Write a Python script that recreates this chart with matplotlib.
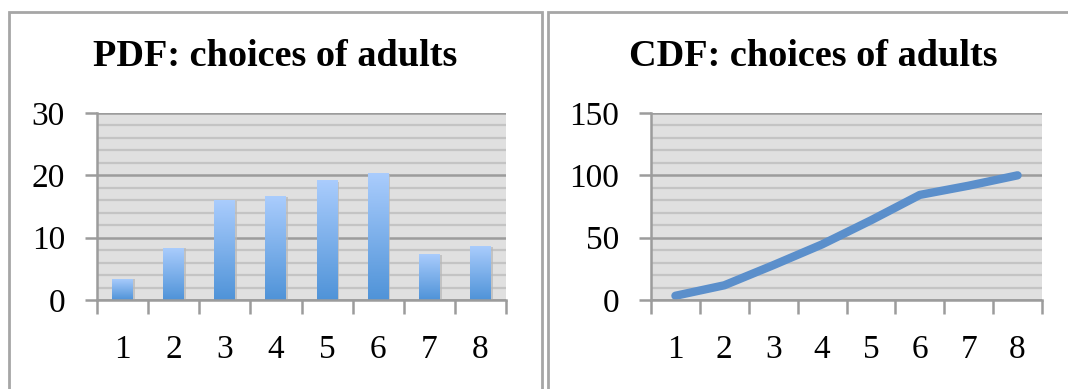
import numpy as np
import matplotlib
matplotlib.use("Agg")
import matplotlib.pyplot as plt
from matplotlib.patches import Rectangle
from matplotlib.ticker import MultipleLocator, FixedLocator

# Data
categories = ["1", "2", "3", "4", "5", "6", "7", "8"]
pdf_values = [3.4, 8.4, 16.1, 16.7, 19.3, 20.4, 7.4, 8.7]
cdf_values = [3.4, 11.8, 27.9, 44.6, 63.9, 84.3, 91.7, 100.0]
pdf_yticks = [0, 10, 20, 30]
cdf_yticks = [0, 50, 100, 150]

W, H = 1068, 389
fig = plt.figure(figsize=(W / 100, H / 100), dpi=100)
fig.patch.set_facecolor("white")

SERIF = ["Liberation Serif", "DejaVu Serif"]
GRID_MAJOR = "#9c9c9c"
GRID_MINOR = "#c4c4c4"
PLOT_BG = "#e0e0e0"
FRAME = "#a6a6a6"


def px_axes(left, right, top, bottom):
    return fig.add_axes([left / W, (H - bottom) / H, (right - left) / W, (bottom - top) / H])


# Panel frames
for x0, x1 in [(8.5, 541.5), (547.5, 1100)]:
    fig.patches.append(Rectangle((x0 / W, -0.2), (x1 - x0) / W, (H - 11.5) / H + 0.2,
                                 transform=fig.transFigure, fill=False,
                                 edgecolor=FRAME, linewidth=2.0))


def style_axes(ax, yticks, minor_step):
    n = len(categories)
    x = np.arange(n)
    ax.set_facecolor(PLOT_BG)
    ax.set_xlim(-0.5, n - 0.5)
    ax.set_ylim(yticks[0], yticks[-1])
    ax.set_yticks(yticks)
    ax.yaxis.set_minor_locator(MultipleLocator(minor_step))
    ax.set_xticks(x)
    ax.set_xticklabels(categories)
    ax.xaxis.set_minor_locator(FixedLocator(np.arange(n + 1) - 0.5))
    ax.grid(which="minor", axis="y", color=GRID_MINOR, linewidth=1.6, zorder=0)
    ax.grid(which="major", axis="y", color=GRID_MAJOR, linewidth=1.8, zorder=0)
    ax.set_axisbelow(True)
    for side in ("top", "right"):
        ax.spines[side].set_visible(False)
    for side in ("left", "bottom"):
        ax.spines[side].set_color(GRID_MAJOR)
        ax.spines[side].set_linewidth(1.8)
        ax.spines[side].set_zorder(4)
    ax.tick_params(axis="y", which="major", length=9, width=1.8, color=GRID_MAJOR,
                   pad=14, labelsize=24)
    ax.tick_params(axis="y", which="minor", length=0)
    ax.tick_params(axis="x", which="major", length=0, pad=25, labelsize=24)
    ax.tick_params(axis="x", which="minor", length=10, width=1.8, color=GRID_MAJOR)
    for lbl in ax.get_xticklabels() + ax.get_yticklabels():
        lbl.set_fontfamily(SERIF)
        lbl.set_color("black")
    return x


# PDF bar chart
ax1 = px_axes(97, 506, 113, 300)
x1 = style_axes(ax1, pdf_yticks, 2)
bars = ax1.bar(x1, pdf_values, width=0.41, facecolor="none", edgecolor="none", zorder=3)
grad = np.linspace(0, 1, 256).reshape(-1, 1)
cmap = matplotlib.colors.LinearSegmentedColormap.from_list("barfill", ["#4f93d8", "#abcdfd"])
for b in bars:
    bx, by = b.get_x(), b.get_y()
    bw, bh = b.get_width(), b.get_height()
    # soft shadow on the right side
    ax1.add_patch(Rectangle((bx + bw, by), 0.035, bh * 0.985, facecolor="#b8b8b8",
                            edgecolor="none", alpha=0.7, zorder=2))
    im = ax1.imshow(grad, extent=(bx, bx + bw, by, by + bh), origin="lower", cmap=cmap,
                    aspect="auto", zorder=3, interpolation="bilinear")
    im.set_clip_path(b)
ax1.set_xlim(-0.5, len(categories) - 0.5)
ax1.set_ylim(pdf_yticks[0], pdf_yticks[-1])

# CDF line chart
ax2 = px_axes(651, 1042, 113, 300)
x2 = style_axes(ax2, cdf_yticks, 10)
ax2.plot(x2, cdf_values, color="#5b8fcb", linewidth=6.0, solid_capstyle="round",
         solid_joinstyle="round", zorder=3, clip_on=False)

# Titles
fig.text(275 / W, (H - 57) / H, "PDF: choices of adults", ha="center", va="center",
         fontsize=27.5, fontweight="bold", family=SERIF)
fig.text(813 / W, (H - 57) / H, "CDF: choices of adults", ha="center", va="center",
         fontsize=27.5, fontweight="bold", family=SERIF)

fig.savefig("out.png", dpi=100, facecolor="white")
